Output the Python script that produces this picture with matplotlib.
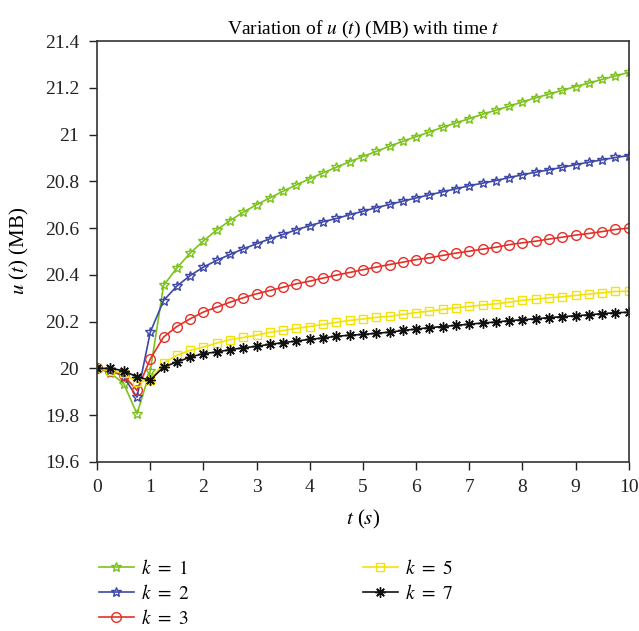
#!/usr/bin/env python3
"""
Variation of u(t) (MB) with time t, for several k values
"""

import numpy as np
import matplotlib
matplotlib.use('Agg')
import matplotlib.pyplot as plt

# ===================== DATA =====================
t = np.arange(0, 10.01, 0.25)

u_k1 = [20.000, 19.980, 19.935, 19.805, 19.990, 20.355, 20.429, 20.493, 20.545, 20.592,
        20.632, 20.668, 20.700, 20.729, 20.758, 20.785, 20.811, 20.836, 20.860, 20.884,
        20.906, 20.928, 20.950, 20.971, 20.991, 21.011, 21.031, 21.050, 21.068, 21.087,
        21.104, 21.121, 21.140, 21.157, 21.173, 21.189, 21.205, 21.220, 21.236, 21.251,
        21.266]
u_k2 = [20.000, 19.995, 19.963, 19.877, 20.155, 20.290, 20.352, 20.397, 20.433, 20.462,
        20.487, 20.511, 20.533, 20.554, 20.573, 20.593, 20.610, 20.627, 20.641, 20.657,
        20.672, 20.687, 20.701, 20.715, 20.729, 20.742, 20.755, 20.768, 20.781, 20.792,
        20.803, 20.816, 20.828, 20.839, 20.849, 20.860, 20.871, 20.882, 20.892, 20.902,
        20.910]
u_k3 = [20.000, 19.990, 19.970, 19.906, 20.040, 20.134, 20.179, 20.212, 20.241, 20.262,
        20.283, 20.302, 20.319, 20.333, 20.347, 20.362, 20.373, 20.386, 20.399, 20.410,
        20.422, 20.433, 20.444, 20.454, 20.465, 20.473, 20.483, 20.493, 20.501, 20.510,
        20.518, 20.529, 20.537, 20.544, 20.553, 20.561, 20.570, 20.577, 20.585, 20.594,
        20.600]
u_k5 = [20.000, 19.990, 19.980, 19.940, 19.950, 20.023, 20.056, 20.077, 20.091, 20.108,
        20.123, 20.132, 20.142, 20.154, 20.162, 20.171, 20.179, 20.188, 20.197, 20.205,
        20.211, 20.218, 20.222, 20.231, 20.238, 20.245, 20.252, 20.259, 20.265, 20.271,
        20.276, 20.283, 20.291, 20.296, 20.302, 20.306, 20.312, 20.318, 20.323, 20.329,
        20.330]
u_k7 = [20.000, 20.000, 19.990, 19.963, 19.950, 20.006, 20.027, 20.048, 20.063, 20.070,
        20.080, 20.088, 20.094, 20.103, 20.110, 20.117, 20.124, 20.130, 20.137, 20.142,
        20.145, 20.150, 20.155, 20.162, 20.168, 20.174, 20.179, 20.184, 20.189, 20.194,
        20.198, 20.204, 20.208, 20.212, 20.217, 20.221, 20.225, 20.229, 20.234, 20.238,
        20.240]

labels = [r'$k\ =\ 1$', r'$k\ =\ 2$', r'$k\ =\ 3$', r'$k\ =\ 5$', r'$k\ =\ 7$']
yticks = [19.6, 19.8, 20, 20.2, 20.4, 20.6, 20.8, 21, 21.2, 21.4]
ytick_labels = ['19.6', '19.8', '20', '20.2', '20.4', '20.6', '20.8', '21', '21.2', '21.4']

# ===================== CONFIG =====================
plt.rcParams.update({
    'font.family': ['Liberation Serif', 'DejaVu Serif'],
    'mathtext.fontset': 'stix',
    'font.size': 14,
})

fig = plt.figure(figsize=(6.39, 6.31), dpi=100)
ax = fig.add_axes([0.152, 0.268, 0.832, 0.667])

series = [
    (u_k1, '#7cc21c', '*', 7.5),
    (u_k2, '#3d48a8', '*', 7.5),
    (u_k3, '#e5302a', 'o', 7),
    (u_k5, '#f2e20a', 's', 5.5),
    (u_k7, '#111111', (8, 2, 0), 7.5),
]

for (vals, c, m, ms), lab in zip(series, labels):
    ax.plot(t, vals, color=c, marker=m, markersize=ms, markerfacecolor='none',
            markeredgecolor=c, markeredgewidth=1.0, linewidth=1.2, label=lab)

ax.set_xlim(0, 10)
ax.set_ylim(19.6, 21.4)
ax.set_xticks(range(0, 11))
ax.set_yticks(yticks)
ax.set_yticklabels(ytick_labels)
ax.tick_params(direction='out', length=6, width=1, colors='#222222', labelsize=14,
               top=False, right=False)
ax.tick_params(axis='y', pad=7)
ax.tick_params(axis='x', pad=6)
for s in ax.spines.values():
    s.set_linewidth(1.2)
    s.set_color('#333333')

ax.set_xlabel('$t$ ($s$)', fontsize=15, labelpad=9)
ax.set_ylabel('$u$ ($t$) (MB)', fontsize=15, labelpad=10)
ax.set_title('Variation of $u$ ($t$) (MB) with time $t$', fontsize=14, pad=5)

ax.legend(loc='upper left', bbox_to_anchor=(-0.012, -0.212), ncol=2, frameon=False,
          fontsize=14, handlelength=1.8, handletextpad=0.4, columnspacing=8.9,
          labelspacing=0.3, borderaxespad=0)

plt.savefig('out.png', dpi=100)
plt.close()
